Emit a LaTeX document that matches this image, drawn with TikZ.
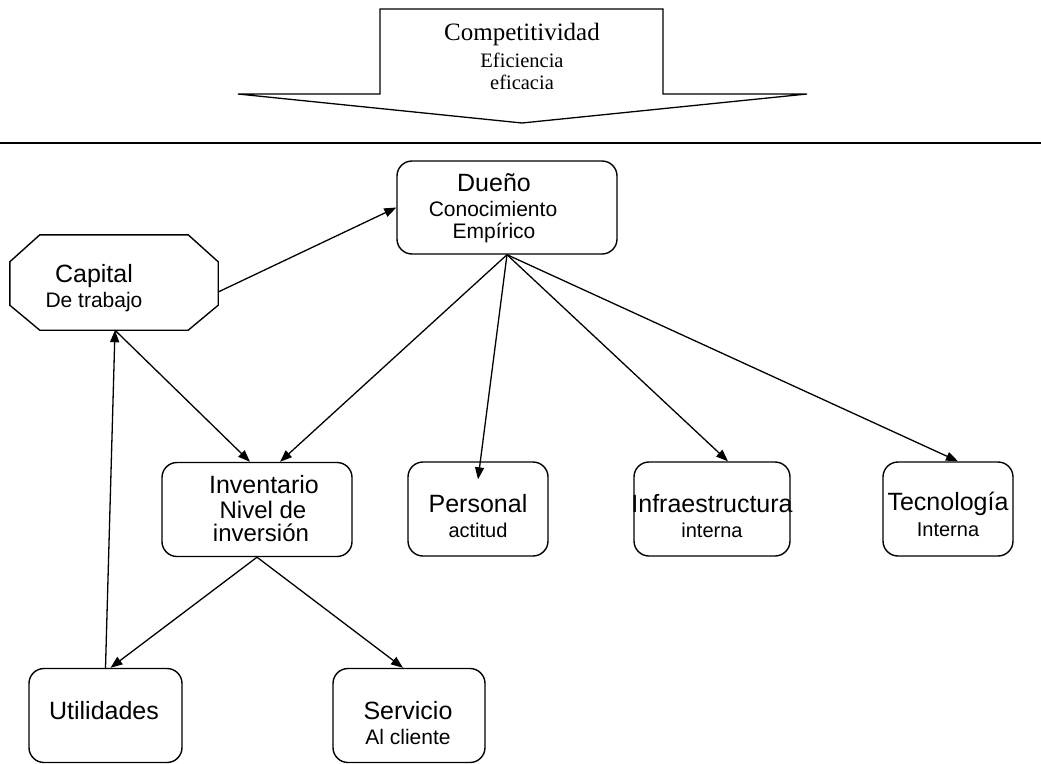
\documentclass[tikz,border=0pt]{standalone}
\usepackage{fontspec}
\setmainfont{Liberation Sans}
\newfontfamily\serifface{Liberation Serif}
\usetikzlibrary{arrows.meta,calc}
\begin{document}
\begin{tikzpicture}[x=1pt,y=-1pt,
  box/.style={draw, rounded corners=15pt, line width=1.4pt,
    minimum width=#1, minimum height=94pt, inner sep=0pt},
  frame/.style={minimum width=#1, minimum height=95pt, inner sep=0pt},
  ttl/.style={font=\fontsize{25}{30}\selectfont, inner sep=0pt},
  sub/.style={font=\fontsize{21}{25}\selectfont, inner sep=0pt},
  subn/.style={font=\fontsize{20}{24}\selectfont, inner sep=0pt},
  topttl/.style={font=\serifface\fontsize{25}{30}\selectfont, inner sep=0pt, anchor=base},
  topsub/.style={font=\serifface\fontsize{20.5}{24}\selectfont, inner sep=0pt, anchor=base},
  conn/.style={line width=1.3pt, -{Triangle[length=12pt,width=9pt]}},
  rule/.style={line width=1.3pt}]
\useasboundingbox (0,0) rectangle (1041,763);

% banner arrow at the top
\draw[rule, line join=miter] (380,9) -- (663,9) -- (663,94) -- (807,94) -- (522,123)
  -- (238,94) -- (380,94) -- cycle;
\node[topttl] (comp) at (522,40) {Competitividad};
\node[topsub] (efic) at (522,67) {Eficiencia};
\node[topsub] (efca) at (522,89) {eficacia};

% separator
\coordinate (sepl) at (0,143);
\coordinate (sepr) at (1041,143);
\draw[rule] (sepl) -- (sepr);

% boxes
\node[box=220pt, minimum height=93pt] (duen) at (507,207.5) {};
\node[box=190pt] (inv)   at (257,509.5) {};
\node[box=140pt] (pers)  at (478,509)   {};
\node[box=156pt] (infra) at (712,509)   {};
\node[box=130pt] (tec)   at (948,509)   {};
\node[box=153pt] (util)  at (105.5,715.5) {};
\node[box=152pt] (serv)  at (409,715.5) {};

% octagon for the working capital
\node[frame=208pt] (cap) at (114,282.5) {};
\draw[line width=1.4pt]
  ($(cap.north west)+(30,0)$) -- ($(cap.north east)+(-30,0)$)
  -- ($(cap.north east)+(0,27)$) -- ($(cap.south east)+(0,-25)$)
  -- ($(cap.south east)+(-30,0)$) -- ($(cap.south west)+(30,0)$)
  -- ($(cap.south west)+(0,-25)$) -- ($(cap.north west)+(0,27)$) -- cycle;

% texts
\node[ttl] (duent) at (494,183) {Dueño};
\node[sub] (duens1) at (493,209) {Conocimiento};
\node[sub] (duens2) at (494,233) {Empírico};

\node[ttl] (capt) at (94,276) {Capital};
\node[sub] (caps) at (94,302) {De trabajo};

\node[ttl] (invt) at (264,485) {Inventario};
\node[font=\fontsize{24}{28}\selectfont, inner sep=0pt] (invs1) at (263,510) {Nivel de};
\node[font=\fontsize{24}{28}\selectfont, inner sep=0pt] (invs2) at (261,533) {inversión};

\node[ttl] (perst) at (478,504) {Personal};
\node[subn] (perss) at (478,530) {actitud};

\node[ttl] (infrat) at (712,504) {Infraestructura};
\node[subn] (infras) at (712,530) {interna};

\node[ttl] (tect) at (948,504) {Tecnología};
\node[subn] (tecs) at (948,530) {Interna};

\node[ttl] (utilt) at (104,711) {Utilidades};

\node[ttl] (servt) at (408,711) {Servicio};
\node[sub] (servs) at (408,737) {Al cliente};

% connectors
\draw[conn] ($(cap.east)+(0,9.5)$) -- (duen.west);
\draw[conn] (duen.south) -- ($(inv.north)+(23,0)$);
\draw[conn] (duen.south) -- ($(pers.north)+(0,18)$);
\draw[conn] (duen.south) -- ($(infra.north)+(16,0)$);
\draw[conn] (duen.south) -- ($(tec.north)+(10,0)$);
\draw[conn] ($(cap.south)+(1,0)$) -- ($(inv.north)+(-7,0)$);
\draw[conn] ($(util.north)+(0,0)$) -- ($(cap.south)+(1,0)$);
\draw[conn] (inv.south) -- ($(util.north)+(5,0)$);
\draw[conn] (inv.south) -- ($(serv.north)+(-6,0)$);
\end{tikzpicture}
\end{document}
